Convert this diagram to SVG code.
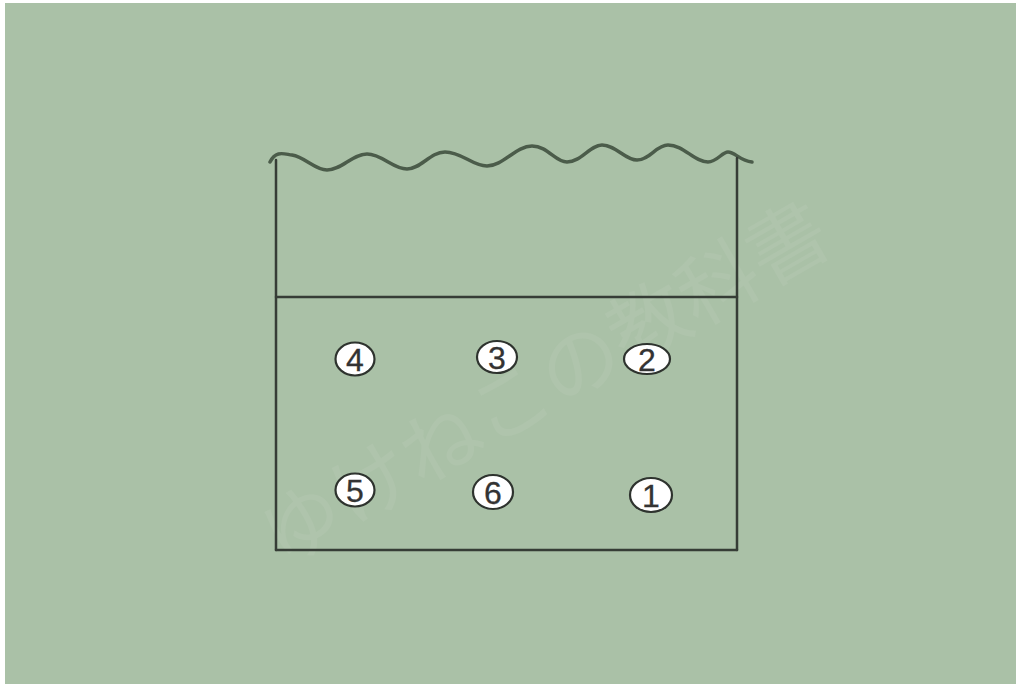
<svg xmlns="http://www.w3.org/2000/svg" width="1018" height="686" viewBox="0 0 1018 686">
<style>
.ln{stroke:#363d36;stroke-width:2.5;fill:none;stroke-linecap:round}
.wave{stroke:#4b5c4a;stroke-width:3.5;fill:none;stroke-linecap:round;stroke-linejoin:round}
.pc{fill:#ffffff;stroke:#2e332e;stroke-width:2.2}
.pn{font-family:"Liberation Sans",Arial,sans-serif;font-size:32px;fill:#333333;stroke:#333333;stroke-width:0.3;text-anchor:middle;dominant-baseline:central}
.wm{font-family:"Noto Sans CJK JP",sans-serif;font-size:80px;fill:#ffffff;fill-opacity:0.06}
</style>
<rect x="0" y="0" width="1018" height="686" fill="#ffffff"/>
<rect x="5" y="3" width="1011" height="681" fill="#aac1a7"/>
<text class="wm" x="0" y="0" transform="translate(282,568) rotate(-30)">ゆけねこの教科書</text>
<g id="connectors">
<path class="wave" d="M270,162 C276,150 284,154 292,155 C305,157 315,170 327,170 C342,170 352,154 367,154 C382,154 393,169 407,169 C421,169 430,152 445,152 C462,152 472,166 487,166 C503,166 516,146 532,146 C548,146 555,162 567,162 C581,162 590,145 602,145 C616,145 625,160 637,160 C650,160 656,145 668,145 C684,145 694,162 708,162 C717,162 722,152 728,152 C735,152 740,161 752,162"/>
<line class="ln" x1="276" y1="160" x2="276" y2="550"/>
<line class="ln" x1="737" y1="158" x2="737" y2="550"/>
<line class="ln" x1="276" y1="550" x2="737" y2="550"/>
<line class="ln" x1="276" y1="297" x2="737" y2="297"/>
</g>
<g id="p4"><ellipse class="pc" cx="355" cy="359" rx="19.5" ry="16.5"/><text class="pn" x="355" y="360">4</text></g>
<g id="p3"><ellipse class="pc" cx="497" cy="357" rx="20" ry="16"/><text class="pn" x="497" y="358">3</text></g>
<g id="p2"><ellipse class="pc" cx="647" cy="359" rx="23" ry="15"/><text class="pn" x="647" y="360">2</text></g>
<g id="p5"><ellipse class="pc" cx="355" cy="490" rx="19.5" ry="16.5"/><text class="pn" x="355" y="491">5</text></g>
<g id="p6"><ellipse class="pc" cx="493" cy="492" rx="20" ry="17"/><text class="pn" x="493" y="493">6</text></g>
<g id="p1"><ellipse class="pc" cx="651" cy="495" rx="21" ry="17"/><text class="pn" x="651" y="496">1</text></g>
</svg>
